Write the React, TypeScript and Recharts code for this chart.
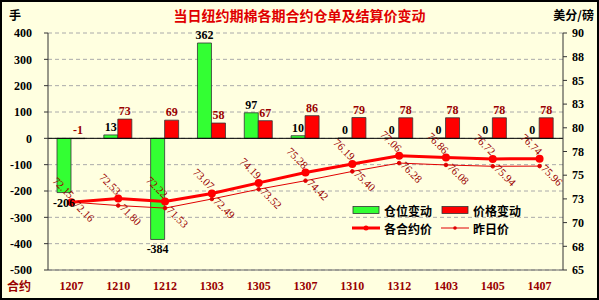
import { ComposedChart, Bar, Line, XAxis, YAxis, CartesianGrid, ReferenceLine, LabelList, Legend } from 'recharts';

const categories = ['1207', '1210', '1212', '1303', '1305', '1307', '1310', '1312', '1403', '1405', '1407'];
const positionChange = [-206, 13, -384, 362, 97, 10, 0, 0, 0, 0, 0];
const priceChange = [-1, 73, 69, 58, 67, 86, 79, 78, 78, 78, 78];
const settlePrice = [72.15, 72.53, 72.22, 73.07, 74.19, 75.28, 76.19, 77.06, 76.86, 76.72, 76.74];
const prevPrice = [72.16, 71.8, 71.53, 72.49, 73.52, 74.42, 75.4, 76.28, 76.08, 75.94, 75.96];

const leftTicks = [-500, -400, -300, -200, -100, 0, 100, 200, 300, 400];
const rightTicks = [65, 67.5, 70, 72.5, 75, 77.5, 80, 82.5, 85, 87.5, 90];

const BG = '#FFFFE0';
const CN = '"Noto Sans CJK SC", sans-serif';
const NUM = '"Liberation Serif", serif';
const DARK_RED = '#990000';

const data = categories.map((name, i) => ({
  name,
  pos: positionChange[i],
  chg: priceChange[i],
  settle: settlePrice[i],
  prev: prevPrice[i],
}));

// bar value labels: green ones go under the bar when negative
const barLabel = (color: string, belowIfNeg: boolean) => (props: any) => {
  const { x, y, width, height, value } = props;
  const top = Math.min(y, y + height);
  const bottom = Math.max(y, y + height);
  const cx = x + width / 2;
  const ty = belowIfNeg && value < 0 ? bottom + 14 : top - 4;
  return (
    <text x={cx} y={ty} textAnchor="middle" fill={color} fontFamily={NUM} fontWeight="bold" fontSize={12}>
      {String(value)}
    </text>
  );
};

const lineLabel = (above: boolean) => (props: any) => {
  const { x, y, value } = props;
  const lx = above ? x - 2 : x + 1;
  const ly = above ? y - 3 : y + 3;
  return (
    <text
      x={lx}
      y={ly}
      textAnchor={above ? 'end' : 'start'}
      transform={`rotate(45, ${lx}, ${ly})`}
      fill={DARK_RED}
      fontFamily={NUM}
      fontSize={11}
    >
      {value.toFixed(2)}
    </text>
  );
};

function LegendBox() {
  const item = (key: JSX.Element, label: string) => (
    <div style={{ display: 'flex', alignItems: 'center', width: 89, height: 18 }}>
      <svg width={30} height={10} style={{ marginRight: 2 }}>{key}</svg>
      <span style={{ fontFamily: CN, fontWeight: 'bold', fontSize: 12, color: '#000' }}>{label}</span>
    </div>
  );
  return (
    <div style={{ display: 'flex', flexWrap: 'wrap', width: 180 }}>
      {item(<rect x={1} y={1.5} width={26} height={7} fill="#33FF33" stroke="#333" strokeWidth={0.8} />, '仓位变动')}
      {item(<rect x={1} y={1.5} width={26} height={7} fill="#FF0000" stroke="#333" strokeWidth={0.8} />, '价格变动')}
      {item(
        <g>
          <line x1={0} y1={5} x2={28} y2={5} stroke="#FF0000" strokeWidth={3} />
          <circle cx={14} cy={5} r={2.5} fill="#FF0000" />
        </g>,
        '各合约价'
      )}
      {item(
        <g>
          <line x1={0} y1={5} x2={28} y2={5} stroke="#E00000" strokeWidth={1} />
          <circle cx={14} cy={5} r={1.8} fill="#E00000" />
        </g>,
        '昨日价'
      )}
    </div>
  );
}

export default function App() {
  return (
    <div style={{ position: 'absolute', left: 0, top: 0, width: 599, height: 300, background: BG }}>
      <ComposedChart
        width={599}
        height={300}
        data={data}
        margin={{ top: 33, right: 0, bottom: 0, left: 0 }}
        barSize={14}
        barGap={0}
      >
        <CartesianGrid vertical={false} stroke="#AAAAAA" strokeDasharray="4 3" yAxisId="left" />
        <XAxis
          dataKey="name"
          height={30}
          tickLine={false}
          axisLine={{ stroke: '#666' }}
          tickMargin={5}
          tick={{ fill: DARK_RED, fontFamily: NUM, fontWeight: 'bold', fontSize: 12 }}
          interval={0}
        />
        <XAxis xAxisId="top" dataKey="name" orientation="top" height={0} tick={false} tickLine={false} axisLine={{ stroke: '#666' }} />
        <YAxis
          yAxisId="left"
          width={48}
          domain={[-500, 400]}
          ticks={leftTicks}
          interval={0}
          allowDataOverflow
          axisLine={{ stroke: '#333' }}
          tickLine={{ stroke: '#333' }}
          tickSize={4}
          tickMargin={12}
          tick={{ fill: '#000', fontFamily: NUM, fontWeight: 'bold', fontSize: 12 }}
        />
        <YAxis
          yAxisId="right"
          orientation="right"
          width={36}
          domain={[65, 90]}
          ticks={rightTicks}
          interval={0}
          allowDataOverflow
          tickFormatter={(v: number) => String(Math.round(v))}
          axisLine={{ stroke: '#333' }}
          tickLine={{ stroke: '#333' }}
          tickSize={4}
          tickMargin={5}
          tick={{ fill: '#000', fontFamily: NUM, fontWeight: 'bold', fontSize: 12, textAnchor: 'start' }}
        />
        <ReferenceLine yAxisId="left" y={0} stroke="#000" strokeWidth={1} />
        <Bar
          yAxisId="left"
          dataKey="pos"
          name="仓位变动"
          fill="#33FF33"
          stroke="#333"
          strokeWidth={0.8}
          minPointSize={(v: number) => (v === 0 ? 0.3 : 0)}
          isAnimationActive={false}
        >
          <LabelList dataKey="pos" content={barLabel('#000', true)} />
        </Bar>
        <Bar yAxisId="left" dataKey="chg" name="价格变动" fill="#FF0000" stroke="#333" strokeWidth={0.8} isAnimationActive={false}>
          <LabelList dataKey="chg" content={barLabel(DARK_RED, false)} />
        </Bar>
        <Line
          yAxisId="right"
          type="linear"
          dataKey="prev"
          name="昨日价"
          stroke="#E00000"
          strokeWidth={1}
          dot={{ r: 1.8, fill: '#E00000', stroke: '#E00000' }}
          isAnimationActive={false}
        >
          <LabelList dataKey="prev" content={lineLabel(false)} />
        </Line>
        <Line
          yAxisId="right"
          type="linear"
          dataKey="settle"
          name="各合约价"
          stroke="#FF0000"
          strokeWidth={3}
          dot={{ r: 2.5, fill: '#FF0000', stroke: '#FF0000' }}
          isAnimationActive={false}
        >
          <LabelList dataKey="settle" content={lineLabel(true)} />
        </Line>
        <Legend
          layout="horizontal"
          verticalAlign="middle"
          align="center"
          content={() => <LegendBox />}
          wrapperStyle={{ position: 'absolute', left: 352, top: 201, width: 185, height: 40 }}
        />
      </ComposedChart>

      <div style={{ position: 'absolute', left: 0, top: 5, width: 599, textAlign: 'center', fontFamily: CN, fontWeight: 'bold', fontSize: 14, color: '#E00000' }}>
        当日纽约期棉各期合约仓单及结算价变动
      </div>
      <div style={{ position: 'absolute', left: 9, top: 6, fontFamily: CN, fontWeight: 'bold', fontSize: 12, color: '#000' }}>手</div>
      <div style={{ position: 'absolute', right: 5, top: 6, fontFamily: CN, fontWeight: 'bold', fontSize: 12, color: '#000' }}>美分/磅</div>
      <div style={{ position: 'absolute', left: 7, top: 277, fontFamily: CN, fontWeight: 'bold', fontSize: 12, color: DARK_RED }}>合约</div>
      <div style={{ position: 'absolute', left: 0, top: 0, width: 599, height: 300, boxSizing: 'border-box', border: '2px solid #000', pointerEvents: 'none' }} />
    </div>
  );
}
